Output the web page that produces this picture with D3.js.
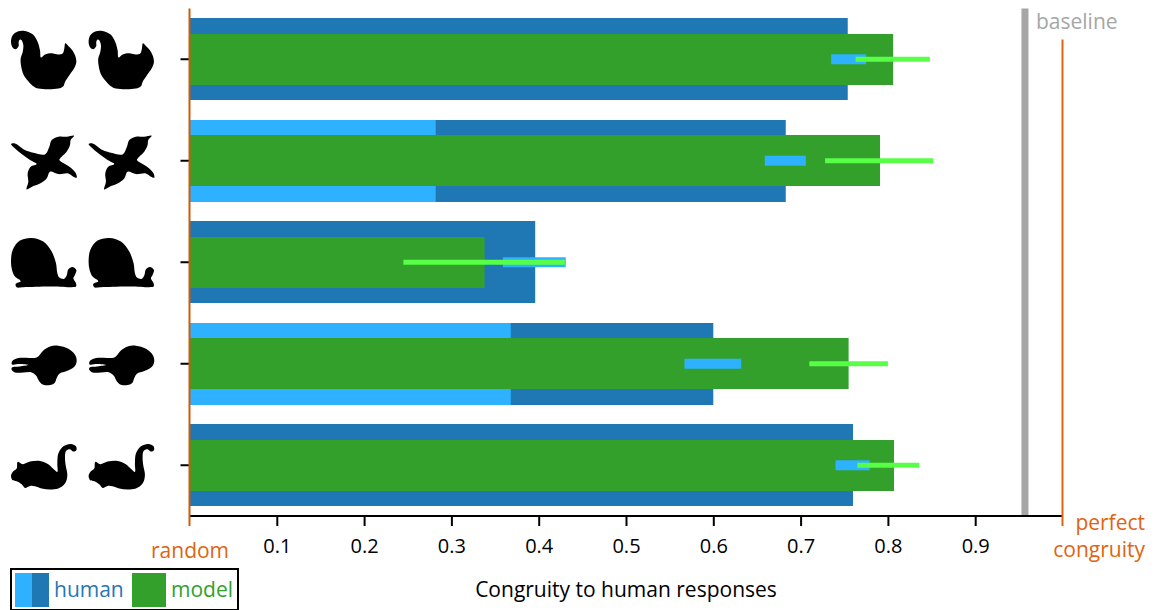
<!DOCTYPE html>
<html>
<head>
<meta charset="utf-8">
<script src="https://cdn.jsdelivr.net/npm/d3@7"></script>
<style>
  body { margin: 0; background: #fff; }
  svg { display: block; }
  text { font-family: "Open Sans", sans-serif; font-size: 21px; }
  .domain { stroke-width: 2px; }
  .tick line { stroke-width: 2px; }
</style>
</head>
<body>
<div id="graf"></div>
<script>
// values, top row first
rows = ['squirrel', 'bird', 'snail', 'rabbit', 'cat']
human = [0.754, 0.683, 0.396, 0.600, 0.760]
humanLight = [0, 0.282, 0, 0.368, 0]
humanLow = [0.735, 0.659, 0.359, 0.567, 0.740]
humanHigh = [0.775, 0.706, 0.431, 0.632, 0.779]
model = [0.806, 0.791, 0.338, 0.755, 0.807]
modelLow = [0.763, 0.728, 0.245, 0.710, 0.765]
modelHigh = [0.848, 0.852, 0.430, 0.800, 0.836]
baseline = 0.957
xTicks = [0.1, 0.2, 0.3, 0.4, 0.5, 0.6, 0.7, 0.8, 0.9]

colores = {
  dark: '#1f78b4', light: '#2eb2ff', green: '#33a02c', lime: '#57ff47',
  orange: '#e0640f', gray: '#a6a6a6'
}

// silhouettes, outlines traced at 3x around the left edge and the row tick
siluetas = {
  squirrel: [[33,125],[38,105],[55,93],[75,92],[98,102],[113,125],[120,150],[123,172],[135,163],[155,159],[175,163],[188,160],[193,145],[196,129],[205,137],[217,150],[225,165],[229,185],[222,205],[208,225],[195,245],[190,258],[175,265],[145,267],[115,265],[100,258],[85,243],[70,222],[63,195],[62,175],[68,155],[70,135],[65,120],[60,118],[56,125],[56,137],[47,147],[38,142]],
  bird: [[33,432],[45,430],[75,450],[100,458],[135,463],[148,440],[155,420],[175,410],[200,410],[222,407],[212,420],[210,435],[200,455],[185,470],[178,480],[195,492],[215,505],[228,520],[230,533],[220,530],[205,520],[175,522],[150,515],[140,535],[120,550],[100,558],[80,568],[85,545],[83,520],[92,500],[110,492],[90,480],[65,462],[45,445]],
  snail: [[33,155],[38,120],[60,92],[95,84],[130,95],[155,125],[168,160],[172,190],[178,203],[192,207],[200,197],[205,178],[217,171],[229,180],[225,195],[220,205],[228,220],[228,230],[215,232],[150,230],[70,232],[50,232],[47,222],[62,214],[45,200],[36,180]],
  rabbit: [[36,455],[50,446],[75,444],[110,443],[130,422],[150,410],[175,408],[205,417],[225,435],[230,455],[222,472],[200,484],[178,492],[170,505],[165,518],[150,526],[130,525],[118,515],[108,497],[95,488],[70,488],[45,488],[35,480],[36,473],[60,470],[85,466],[60,463],[36,464]],
  cat: [[33,167],[38,155],[50,145],[53,125],[68,132],[90,124],[120,122],[145,132],[162,148],[172,155],[172,130],[175,100],[190,78],[212,71],[228,78],[229,90],[220,94],[210,87],[198,92],[195,110],[197,135],[202,165],[195,190],[175,205],[150,208],[125,205],[105,198],[90,197],[75,203],[65,192],[50,183],[38,180]]
}
siluetaY = { squirrel: 177, bird: 482, snail: 157, rabbit: 462, cat: 135 }

ancho_total = 1163
alto_total = 610
margins = { top: 8.5, left: 189.5, right: 100.5, bottom: 94 }
ancho = ancho_total - margins.left - margins.right
alto = 516 - margins.top

svg = d3.select('#graf').append('svg')
  .attr('width', ancho_total)
  .attr('height', alto_total)

g = svg.append('g')
  .attr('transform', `translate(${margins.left}, ${margins.top})`)

x = d3.scaleLinear().domain([0, 1]).range([0, ancho])
y = d3.scaleBand().domain(rows).range([0, alto])
centro = d => y(d) + y.bandwidth() / 2

// bars: dark human, light part of it, model on top
function barras(valores, alturaBar, color) {
  g.append('g').selectAll('rect')
    .data(rows)
    .join('rect')
    .attr('x', x(0))
    .attr('y', d => Math.round(margins.top + centro(d) - alturaBar / 2) - margins.top)
    .attr('width', (d, i) => x(valores[i]))
    .attr('height', alturaBar)
    .attr('fill', color)
}
barras(human, 82, colores.dark)
barras(humanLight, 82, colores.light)
barras(model, 51, colores.green)

// error bars
function errores(bajo, alto_, grosor, color) {
  g.append('g').selectAll('line')
    .data(rows)
    .join('line')
    .attr('x1', (d, i) => x(bajo[i]))
    .attr('x2', (d, i) => x(alto_[i]))
    .attr('y1', d => centro(d))
    .attr('y2', d => centro(d))
    .attr('stroke', color)
    .attr('stroke-width', grosor)
}
errores(humanLow, humanHigh, 10, colores.light)
errores(modelLow, modelHigh, 5, colores.lime)

// baseline
g.append('line')
  .attr('x1', x(baseline)).attr('x2', x(baseline))
  .attr('y1', 0).attr('y2', alto)
  .attr('stroke', colores.gray)
  .attr('stroke-width', 7)
svg.append('text')
  .attr('x', 1036).attr('y', 29)
  .attr('fill', colores.gray)
  .text('baseline')

// axes
xAxis = g.append('g')
  .attr('transform', `translate(0, ${alto})`)
  .call(d3.axisBottom(x).tickValues(xTicks).tickSize(10).tickPadding(13).tickFormat(d3.format('.1f')))
xAxis.select('.domain').attr('d', `M0,0H${ancho}`).attr('stroke', '#000')
xAxis.selectAll('text').style('font-size', '20px')

yAxis = g.append('g')
  .call(d3.axisLeft(y).tickSize(9).tickFormat(''))
yAxis.select('.domain').remove()

// orange limits
g.append('line')
  .attr('x1', x(0)).attr('x2', x(0))
  .attr('y1', 0).attr('y2', alto + 10)
  .attr('stroke', '#cc5c0a').attr('stroke-width', 2)
g.append('line')
  .attr('x1', x(1)).attr('x2', x(1))
  .attr('y1', 31).attr('y2', alto + 10)
  .attr('stroke', colores.orange).attr('stroke-width', 2)

svg.append('text').attr('x', 151).attr('y', 558).attr('fill', colores.orange).text('random')
svg.append('text').attr('x', 1145).attr('y', 530).attr('text-anchor', 'end').attr('fill', colores.orange).text('perfect')
svg.append('text').attr('x', 1145).attr('y', 557).attr('text-anchor', 'end').attr('fill', colores.orange).text('congruity')
svg.append('text').attr('x', 626).attr('y', 597).attr('text-anchor', 'middle').attr('fill', '#000').text('Congruity to human responses')

// silhouettes, twice per row
silueta = d3.line().curve(d3.curveCatmullRomClosed.alpha(0.5))
rows.forEach(d => {
  [0, 77.6].forEach(dx => {
    svg.append('path')
      .attr('d', silueta(siluetas[d]))
      .attr('transform', `translate(${dx}, ${margins.top + centro(d)}) scale(${1 / 3}) translate(0, ${-siluetaY[d]})`)
      .attr('fill', '#000')
  })
})

// legend
leyenda = svg.append('g')
leyenda.append('rect')
  .attr('x', 11).attr('y', 569).attr('width', 227).attr('height', 41)
  .attr('fill', 'none').attr('stroke', '#000').attr('stroke-width', 2)
leyenda.append('rect').attr('x', 15).attr('y', 573).attr('width', 17).attr('height', 34).attr('fill', colores.light)
leyenda.append('rect').attr('x', 32).attr('y', 573).attr('width', 17).attr('height', 34).attr('fill', colores.dark)
leyenda.append('rect').attr('x', 132).attr('y', 573).attr('width', 34).attr('height', 34).attr('fill', colores.green)
leyenda.append('text').attr('x', 54).attr('y', 597).attr('fill', colores.dark).text('human')
leyenda.append('text').attr('x', 171).attr('y', 597).attr('fill', colores.green).text('model')
</script>
</body>
</html>
